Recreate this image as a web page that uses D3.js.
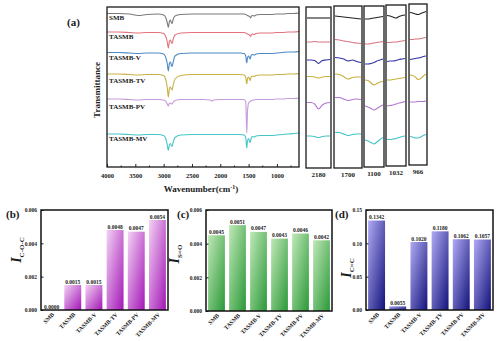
<!DOCTYPE html>
<html>
<head>
<meta charset="utf-8">
<script src="https://cdn.jsdelivr.net/npm/d3@7"></script>
<style>
  body { margin: 0; background: #fff; }
  svg { display: block; }
  text { font-family: "Liberation Serif", "Times New Roman", serif; font-weight: bold; fill: #1a1a1a; }
</style>
</head>
<body>
<script>
// sample names, shared by every panel
var samples = ["SMB", "TASMB", "TASMB-V", "TASMB-TV", "TASMB-PV", "TASMB-MV"];

// FTIR spectra, offset transmittance (arb. units)
var wavenumbers = [4000, 3800, 3600, 3450, 3300, 3100, 3000, 2960, 2935, 2917, 2900, 2880, 2860, 2850, 2835, 2800, 2700, 2500, 2300, 2180, 2150, 2120, 2000, 1800, 1650, 1580, 1550, 1540, 1532, 1520, 1500, 1485, 1474, 1462, 1450, 1430, 1400, 1370, 1300, 1200, 1100, 1000, 900, 800, 700, 610];
var trSMB = [153.5, 153.5, 153, 151.5, 152.5, 153, 152, 149, 144, 139.5, 145, 147, 144, 143.5, 147, 151, 152.5, 153, 153, 153, 153, 153, 153, 153, 153, 153, 152.5, 152, 152, 151.5, 151, 150.5, 150, 149, 151, 151.5, 151, 152, 152.5, 152.5, 152.5, 153, 153, 153.5, 153.5, 154];
var trTASMB = [135, 135, 134.5, 134, 134.5, 134.5, 133.5, 130, 125, 119, 125, 127, 124, 123.5, 127, 132, 134, 134.5, 134.5, 134.5, 134.5, 134.5, 134.5, 134.5, 134.5, 134.5, 134, 133.5, 133.5, 133, 132.5, 132, 131, 130.5, 132.5, 133, 132.5, 133.5, 134, 134, 134, 134.5, 134.5, 135, 135, 135.5];
var trV = [114.5, 114.5, 114, 113.5, 114, 114, 113, 109, 103, 96, 103, 105, 101, 100.5, 104, 111, 113.5, 114, 114, 114, 114, 114, 114, 114, 114, 113.5, 111, 106, 104, 109, 111, 109.5, 108, 110, 112, 112.5, 112, 113, 113.5, 113.5, 113.5, 114, 114.5, 115, 115, 115.5];
var trTV = [93, 93, 92.5, 92, 92.5, 92.5, 91.5, 87, 79, 70, 78, 80, 77.5, 77, 81, 88, 91.5, 92.5, 92.5, 92.5, 92.5, 92.5, 92.5, 92.5, 92.5, 92, 90, 85, 83, 88, 90, 88, 86.5, 88.5, 90.5, 91, 90.5, 91.5, 92, 92, 92, 92.5, 92.5, 93, 93, 93.5];
var trPV = [68, 68, 67.5, 67, 67.5, 67.5, 67, 65.5, 63, 61, 63.5, 64, 63, 63, 64.5, 66.5, 67.5, 67.5, 67.5, 67, 66, 67, 67.5, 67.5, 67.5, 67.5, 65, 48, 34, 55, 64, 65, 65.5, 66, 66.5, 67, 67, 67.5, 67.5, 67.5, 67.5, 68, 68, 68.5, 68.5, 69];
var trMV = [33, 33, 32.5, 32, 32.5, 32.5, 31.5, 28, 22, 16.5, 22, 23.5, 21, 20.5, 24, 29.5, 32, 32.5, 32.5, 32.5, 32.5, 32.5, 32.5, 32.5, 32.5, 32, 29.5, 23, 19, 26, 28.5, 26, 24.5, 27, 29.5, 30.5, 30, 31, 31.5, 31.5, 31.5, 32, 32.5, 33, 33.5, 34];
var xTicks = [4000, 3500, 3000, 2500, 2000, 1500, 1000];

// magnified windows at the right of panel (a)
var zoomLabels = ["2180", "1700", "1100", "1032", "966"];
var zoomSteps = [0, 1, 2, 3, 4, 5, 6];
var zoom2180 = [[150, 150, 150, 150, 150, 150, 150], [126, 126, 126.5, 126, 126, 126, 126], [108, 108, 107.5, 104.5, 107.5, 108, 108.5], [91.5, 91.5, 91, 90, 91, 91.5, 91.5], [65.5, 65.5, 64, 59, 63, 65, 65.5], [32, 32, 31.5, 30.5, 31.5, 32, 32]];
var zoom1700 = [[152, 151.5, 151, 150.5, 150, 149.5, 149], [128.5, 128, 127, 126.5, 125.5, 125, 124.5], [110.5, 110, 109, 107, 108, 106.5, 105.5], [94, 93.5, 91.5, 89, 90.5, 91, 91], [70.5, 70.5, 69, 67.5, 68.5, 69, 68.5], [35.5, 35.5, 34, 32.5, 33.5, 34, 34]];
var zoom1100 = [[148, 148, 148.5, 149, 149.5, 150, 150.5], [123, 123, 123.5, 124, 124.5, 125, 125.5], [103, 103, 103.5, 104.5, 106, 107, 108], [87, 86.5, 84, 82, 83.5, 85, 85.5], [61, 60, 58.5, 57, 58.5, 60.5, 62], [27, 26, 24.5, 23, 25, 27.5, 29.5]];
var zoom1032 = [[150.5, 150, 149, 148, 149.5, 150.5, 151], [123.5, 123.5, 124, 124, 124.5, 125, 125.5], [104.5, 105, 105, 105.5, 106.5, 107, 107.5], [86, 86, 86.5, 87, 87.5, 88, 88.5], [60, 60.5, 61, 62, 63, 63.5, 64.5], [26.5, 26.5, 27, 27.5, 28.5, 29.5, 30]];
var zoom966 = [[152.5, 152, 151, 150.5, 151.5, 152.5, 153.5], [125.5, 125.5, 126, 126, 126.5, 127, 127.5], [105.5, 106, 106.5, 107, 107.5, 108.5, 109], [90, 89.5, 88, 85.5, 86.5, 89, 91], [63, 63, 63, 63.5, 63.5, 63.5, 64], [28.5, 28, 27, 27, 28, 29.5, 30.5]];

// bar panels (b), (c), (d)
var iCOC = [0.0000, 0.0015, 0.0015, 0.0048, 0.0047, 0.0054];
var iSO = [0.0045, 0.0051, 0.0047, 0.0043, 0.0046, 0.0042];
var iCC = [0.1342, 0.0055, 0.1020, 0.1180, 0.1062, 0.1057];
var ticksSmall = [0, 0.002, 0.004, 0.006];
var ticksCC = [0, 0.05, 0.10, 0.15];

var svg = d3.select("body").append("svg")
  .attr("width", 500)
  .attr("height", 341);

var defs = svg.append("defs");

// ---------- panel (a) ----------
var lineColors = ["#7a7a7a", "#e2737c", "#4d89c6", "#c9b144", "#c59bd9", "#45c6c8"];
var zoomColors = ["#222222", "#da7482", "#3434a8", "#c8b040", "#b476d2", "#43c2c6"];
var spectra = [trSMB, trTASMB, trV, trTV, trPV, trMV];

var aX = d3.scaleLinear().domain([4000, 610]).range([107, 299]);
var aY = d3.scaleLinear().domain([0, 160]).range([167, 7]);

var specLine = d3.line()
  .x((d, i) => aX(wavenumbers[i]))
  .y(d => aY(d))
  .curve(d3.curveMonotoneX);

svg.append("g").selectAll("path")
  .data(spectra)
  .enter().append("path")
  .attr("d", specLine)
  .attr("fill", "none")
  .attr("stroke", (d, i) => lineColors[i])
  .attr("stroke-width", 1.1);

// ticks point inward
var bottomAxis = d3.axisBottom(aX).tickValues(xTicks).tickSize(-3).tickPadding(6).tickFormat(d3.format("d"));
var axA = svg.append("g").attr("transform", "translate(0,167)").call(bottomAxis);
axA.select(".domain").remove();
axA.selectAll("text").style("font-size", "6.5px").attr("fill", "#1a1a1a");
axA.selectAll("line").attr("stroke", "#222");
svg.append("g").selectAll("line")
  .data(d3.range(3750, 600, -500))
  .enter().append("line")
  .attr("x1", d => aX(d)).attr("x2", d => aX(d))
  .attr("y1", 167).attr("y2", 165.5)
  .attr("stroke", "#222");

svg.append("rect")
  .attr("x", 107).attr("y", 7)
  .attr("width", 192).attr("height", 160)
  .attr("fill", "none").attr("stroke", "#1a1a1a").attr("stroke-width", 1.3);

var labelY = [17, 36, 57, 80, 106, 138];
svg.append("g").selectAll("text")
  .data(samples)
  .enter().append("text")
  .attr("x", 109).attr("y", (d, i) => labelY[i] + 2.5)
  .style("font-size", "7px")
  .text(d => d);

svg.append("text")
  .attr("transform", "translate(100,90) rotate(-90)")
  .attr("text-anchor", "middle")
  .style("font-size", "9px")
  .text("Transmittance");

var wn = svg.append("text")
  .attr("x", 201).attr("y", 192)
  .attr("text-anchor", "middle")
  .style("font-size", "9px");
wn.append("tspan").text("Wavenumber(cm");
wn.append("tspan").attr("dy", -3).style("font-size", "6px").text("-1");
wn.append("tspan").attr("dy", 3).text(")");

svg.append("text").attr("x", 67).attr("y", 26).style("font-size", "11px").text("(a)");

// magnified windows
var zoomFrames = [
  { x0: 306, x1: 331, y0: 7, y1: 168, data: zoom2180 },
  { x0: 334, x1: 362, y0: 6, y1: 168, data: zoom1700 },
  { x0: 364, x1: 384, y0: 6, y1: 167, data: zoom1100 },
  { x0: 386, x1: 406, y0: 5, y1: 166, data: zoom1032 },
  { x0: 409, x1: 427, y0: 4, y1: 165, data: zoom966 }
];

zoomFrames.forEach(function(f, k) {
  var zx = d3.scaleLinear().domain([0, 6]).range([f.x0 + 1, f.x1 - 1]);
  var zy = d3.scaleLinear().domain([0, f.y1 - f.y0]).range([f.y1, f.y0]);
  var zl = d3.line()
    .x((d, i) => zx(zoomSteps[i]))
    .y(d => zy(d))
    .curve(d3.curveMonotoneX);
  svg.append("g").selectAll("path")
    .data(f.data)
    .enter().append("path")
    .attr("d", zl)
    .attr("fill", "none")
    .attr("stroke", (d, i) => zoomColors[i])
    .attr("stroke-width", 1.1);
  svg.append("rect")
    .attr("x", f.x0).attr("y", f.y0)
    .attr("width", f.x1 - f.x0).attr("height", f.y1 - f.y0)
    .attr("fill", "none").attr("stroke", "#1a1a1a").attr("stroke-width", 1.3);
  svg.append("text")
    .attr("x", (f.x0 + f.x1) / 2).attr("y", f.y1 + 9)
    .attr("text-anchor", "middle")
    .style("font-size", "7px")
    .text(zoomLabels[k]);
});

// ---------- bar panels ----------
function addGradient(id, light, dark) {
  var g = defs.append("linearGradient").attr("id", id)
    .attr("x1", 0).attr("y1", 0).attr("x2", 1).attr("y2", 1);
  g.append("stop").attr("offset", "0%").attr("stop-color", light);
  g.append("stop").attr("offset", "100%").attr("stop-color", dark);
}
addGradient("gradB", "#f3d2f4", "#a316b6");
addGradient("gradC", "#bfe8b6", "#2a9838");
addGradient("gradD", "#b0aaf4", "#12127a");

function drawBars(p) {
  var x = d3.scaleBand().domain(samples).range([p.left, p.right]).paddingInner(0.2).paddingOuter(0.1);
  var y = d3.scaleLinear().domain([0, p.max]).range([p.bottom, p.top]);
  var g = svg.append("g");

  g.selectAll("rect.bar")
    .data(p.values)
    .enter().append("rect")
    .attr("class", "bar")
    .attr("x", (d, i) => x(samples[i]))
    .attr("y", d => y(d))
    .attr("width", x.bandwidth())
    .attr("height", d => p.bottom - y(d))
    .attr("fill", "url(#" + p.grad + ")");

  g.selectAll("text.val")
    .data(p.values)
    .enter().append("text")
    .attr("class", "val")
    .attr("x", (d, i) => x(samples[i]) + x.bandwidth() / 2)
    .attr("y", d => y(d) - 1.5)
    .attr("text-anchor", "middle")
    .style("font-size", "5.5px")
    .text(d => d3.format(".4f")(d));

  var left = d3.axisLeft(y).tickValues(p.ticks).tickSize(-2.5).tickPadding(4).tickFormat(d3.format(p.fmt));
  var ay = g.append("g").attr("transform", "translate(" + p.left + ",0)").call(left);
  ay.select(".domain").remove();
  ay.selectAll("text").style("font-size", "5.5px").attr("fill", "#1a1a1a");
  ay.selectAll("line").attr("stroke", "#222");

  g.selectAll("text.cat")
    .data(samples)
    .enter().append("text")
    .attr("class", "cat")
    .attr("transform", d => "translate(" + (x(d) + x.bandwidth() / 2 + 3) + "," + (p.bottom + 5) + ") rotate(-45)")
    .attr("text-anchor", "end")
    .style("font-size", "5.8px")
    .text(d => d);

  g.append("rect")
    .attr("x", p.left).attr("y", p.top)
    .attr("width", p.right - p.left).attr("height", p.bottom - p.top)
    .attr("fill", "none").attr("stroke", "#111").attr("stroke-width", 1.5);

  var yl = g.append("text")
    .attr("transform", "translate(" + p.labelX + "," + p.labelY + ") rotate(-90)")
    .attr("text-anchor", "middle");
  yl.append("tspan").style("font-size", "14px").style("font-style", "italic").text("I");
  yl.append("tspan").attr("dy", 3).style("font-size", "7px").text(p.sub);

  g.append("text").attr("x", p.tagX).attr("y", 218).style("font-size", "11px").text(p.tag);
}

drawBars({ left: 41, right: 168, top: 210, bottom: 310, max: 0.006, values: iCOC, ticks: ticksSmall, fmt: ".3f",
  grad: "gradB", sub: "C-O-C", labelX: 21, labelY: 250, tag: "(b)", tagX: 6 });
drawBars({ left: 206, right: 332, top: 210, bottom: 311, max: 0.006, values: iSO, ticks: ticksSmall, fmt: ".3f",
  grad: "gradC", sub: "S=O", labelX: 179, labelY: 254, tag: "(c)", tagX: 177 });
drawBars({ left: 366, right: 493, top: 210, bottom: 310, max: 0.15, values: iCC, ticks: ticksCC, fmt: ".2f",
  grad: "gradD", sub: "C=C", labelX: 351, labelY: 268, tag: "(d)", tagX: 335 });
</script>
</body>
</html>
